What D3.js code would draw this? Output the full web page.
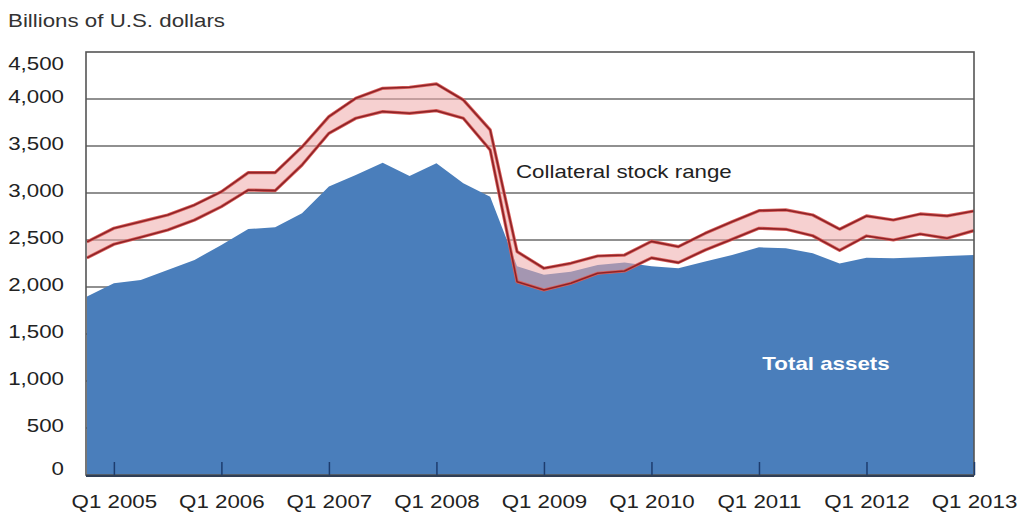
<!DOCTYPE html>
<html><head><meta charset="utf-8">
<script src="https://cdn.jsdelivr.net/npm/d3@7"></script>
<style>body{margin:0;background:#fff;}svg{display:block;font-family:"Liberation Sans",Arial,sans-serif;}</style>
</head><body>
<svg id="c" width="1019" height="515"></svg>
<script>
const quarters = ["Q4 2004","Q1 2005","Q2 2005","Q3 2005","Q4 2005","Q1 2006","Q2 2006","Q3 2006","Q4 2006",
"Q1 2007","Q2 2007","Q3 2007","Q4 2007","Q1 2008","Q2 2008","Q3 2008","Q4 2008",
"Q1 2009","Q2 2009","Q3 2009","Q4 2009","Q1 2010","Q2 2010","Q3 2010","Q4 2010",
"Q1 2011","Q2 2011","Q3 2011","Q4 2011","Q1 2012","Q2 2012","Q3 2012","Q4 2012","Q1 2013"];
const totalAssets = [1900,2040,2075,2181,2288,2447,2617,2635,2784,3068,3192,3323,3181,3316,3104,2960,2220,
2130,2163,2234,2260,2220,2199,2270,2341,2422,2412,2359,2250,2312,2305,2316,2330,2341];
const collateralLow = [2310,2455,2529,2607,2713,2855,3032,3025,3298,3635,3795,3866,3848,3876,3795,3458,2057,
1968,2040,2146,2170,2310,2259,2394,2508,2625,2614,2545,2390,2543,2500,2564,2518,2600];
const collateralHigh = [2480,2625,2695,2766,2873,3014,3217,3217,3490,3813,4008,4114,4125,4160,3990,3671,2376,
2199,2252,2330,2340,2485,2429,2571,2695,2812,2820,2766,2615,2756,2713,2777,2756,2809];
const yTicks = [0,500,1000,1500,2000,2500,3000,3500,4000,4500];
const xTickLabels = ["Q1 2005","Q1 2006","Q1 2007","Q1 2008","Q1 2009","Q1 2010","Q1 2011","Q1 2012","Q1 2013"];

const SX = 1.24; // horizontal stretch of the reference lettering
const svg = d3.select("#c");
const L=86, R=974, T=52, B=475;
const x = d3.scaleLinear().domain([0, quarters.length-1]).range([87, R]);
const y = d3.scaleLinear().domain([0,4500]).range([B,T]);
const idx = d3.range(quarters.length);

function label(px, py, txt, opts={}) {
  const t = svg.append("text").attr("transform",`translate(${px},${py}) scale(${SX},1)`)
    .attr("font-size",opts.size||18).attr("fill",opts.fill||"#222").text(txt);
  if (opts.anchor) t.attr("text-anchor",opts.anchor);
  if (opts.weight) t.attr("font-weight",opts.weight);
  return t;
}

// title
label(8, 27, "Billions of U.S. dollars", {fill:"#333"});

// gridlines
svg.append("g").selectAll("line").data(yTicks.filter(v=>v>0&&v<4500)).join("line")
  .attr("x1",L).attr("x2",R).attr("y1",d=>y(d)).attr("y2",d=>y(d))
  .attr("stroke","#6b6b6b").attr("stroke-width",1.3);

// total assets area
svg.append("path").datum(idx)
  .attr("d", d3.area().x(i=>x(i)).y0(B).y1(i=>y(totalAssets[i])))
  .attr("fill","#4a7ebb");

// collateral band
svg.append("path").datum(idx)
  .attr("d", d3.area().x(i=>x(i)).y0(i=>y(collateralLow[i])).y1(i=>y(collateralHigh[i])))
  .attr("fill","#eeaaaa").attr("fill-opacity",0.55);
const line = arr => d3.line().x(i=>x(i)).y(i=>y(arr[i]));
[collateralLow, collateralHigh].forEach(arr=>{
  svg.append("path").datum(idx).attr("d", line(arr)).attr("fill","none")
    .attr("stroke","#d9605c").attr("stroke-width",3.2).attr("stroke-linejoin","round");
  svg.append("path").datum(idx).attr("d", line(arr)).attr("fill","none")
    .attr("stroke","#8e2327").attr("stroke-width",1.6).attr("stroke-linejoin","round");
});

// frame
svg.append("rect").attr("x",L).attr("y",T).attr("width",R-L).attr("height",B-T)
  .attr("fill","none").attr("stroke","#555").attr("stroke-width",1.6);
svg.append("line").attr("x1",L).attr("x2",R).attr("y1",B+1).attr("y2",B+1)
  .attr("stroke","#2f3e55").attr("stroke-width",2);

// x ticks & labels
const xAxis = d3.axisBottom(x)
  .tickValues(xTickLabels.map(q=>quarters.indexOf(q)))
  .tickFormat(i=>quarters[i]).tickSizeInner(-13).tickSizeOuter(0).tickPadding(0);
const gx = svg.append("g").attr("transform",`translate(0,${B})`).call(xAxis);
gx.select(".domain").remove();
gx.selectAll(".tick line").attr("stroke","#1d3c6e").attr("stroke-width",1.5);
gx.selectAll(".tick text").attr("y",0).attr("dy",0)
  .attr("transform",`translate(0,33) scale(${SX},1)`)
  .attr("font-size",18).attr("fill","#222")
  .attr("font-family","Liberation Sans, Arial, sans-serif");

// y labels
const yAxis = d3.axisLeft(y).tickValues(yTicks).tickFormat(d3.format(",")).tickSize(0).tickPadding(0);
const gy = svg.append("g").attr("transform",`translate(64,0)`).call(yAxis);
gy.select(".domain").remove();
gy.selectAll(".tick text").attr("x",0).attr("font-size",18).attr("fill","#222")
  .attr("font-family","Liberation Sans, Arial, sans-serif")
  .attr("transform",`scale(${SX},1)`)
  .attr("dy", d => d===4500 ? "1.0em" : d===0 ? "-0.05em" : "0.17em");

// annotations
label(516, 178, "Collateral stock range");
label(826, 370, "Total assets", {anchor:"middle", weight:"bold", fill:"#fff"});
</script>
</body></html>
